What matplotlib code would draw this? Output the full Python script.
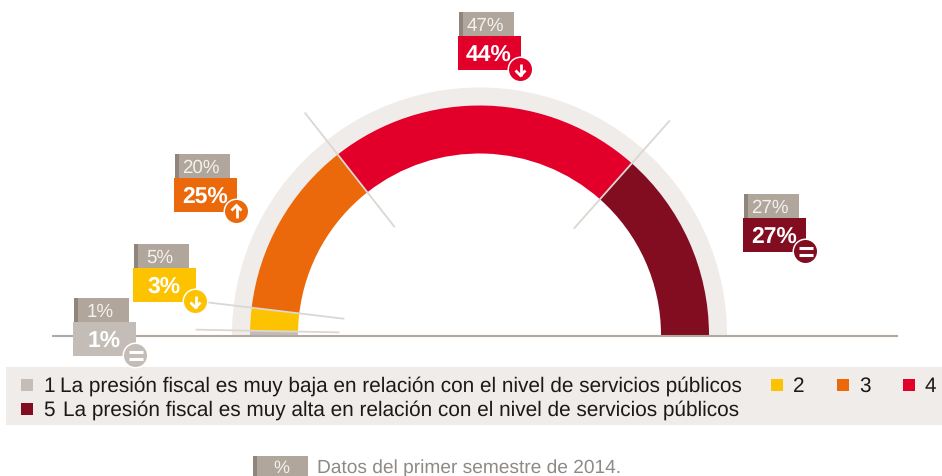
import numpy as np
import matplotlib
matplotlib.use('Agg')
import matplotlib.pyplot as plt
from matplotlib.patches import Wedge, Rectangle, Circle

plt.rcParams['font.family'] = ['Liberation Sans', 'DejaVu Sans']
plt.rcParams['text.hinting'] = 'none'
plt.rcParams['text.hinting_factor'] = 8

# data
categories = ['1', '2', '3', '4', '5']
actual = [1, 3, 25, 44, 27]
previo = [1, 5, 20, 47, 27]
arco = [0.6, 3.2, 25, 44.3, 26.9]
tendencia = ['=', 'down', 'up', 'down', '=']
colores = ['#c4bdb7', '#fdc300', '#eb690b', '#e2002b', '#820c20']
texto_1 = 'La presión fiscal es muy baja en relación con el nivel de servicios públicos'
texto_5 = 'La presión fiscal es muy alta en relación con el nivel de servicios públicos'
nota = 'Datos del primer semestre de 2014.'

# layout in px, top left origin
caja_x = [73, 133, 174, 458, 743]
caja_y = [322, 268, 178, 36, 218]
gris = '#b0a69c'
gris_osc = '#8f857d'
fondo = '#efecea'
cx, cy = 479.5, 335
W, H = 942, 476


def Y(py):
    return H - py


fig = plt.figure(figsize=(W / 100, H / 100), dpi=100)
ax = fig.add_axes([0, 0, 1, 1])
ax.set_xlim(0, W)
ax.set_ylim(0, H)
ax.axis('off')

# ring
ax.add_patch(Wedge((cx, Y(cy)), 247.5, 0, 180, width=18, fc=fondo, ec='none', zorder=1))
cum = np.cumsum([0] + arco)
for i in range(len(arco)):
    t1 = 180 - 180 * cum[i + 1] / cum[-1]
    t2 = 180 - 180 * cum[i] / cum[-1]
    ax.add_patch(Wedge((cx, Y(cy)), 229.5, t1, t2, width=48, fc=colores[i], ec='none', zorder=2))

# separators between segments
for i, (r0, r1) in zip([1, 2, 3, 4], [(141, 283), (137, 275), (138, 282), (143, 286)]):
    a = np.radians(180 - 180 * cum[i] / cum[-1])
    ax.plot([cx + r0 * np.cos(a), cx + r1 * np.cos(a)],
            [Y(cy) + r0 * np.sin(a), Y(cy) + r1 * np.sin(a)],
            color='#dbd7d2', lw=1.3, zorder=3)

# baseline
ax.plot([52, 898], [Y(335.5), Y(335.5)], color='#b3a89f', lw=1.5, zorder=3, solid_capstyle='butt')


def badge(x, y, kind, col):
    ax.add_patch(Circle((x, Y(y)), 13, fc='white', ec='none', zorder=6))
    ax.add_patch(Circle((x, Y(y)), 11.5, fc=col, ec='none', zorder=7))
    if kind == '=':
        for d in (-3.3, 3.3):
            ax.plot([x - 7, x + 7], [Y(y + d)] * 2, color='white', lw=2.2,
                    solid_capstyle='butt', zorder=8)
    else:
        s = 1 if kind == 'up' else -1
        ax.plot([x, x], [Y(y) - 6 * s, Y(y) + 6 * s], color='white', lw=2, solid_capstyle='butt', zorder=8)
        ax.plot([x - 5, x, x + 5], [Y(y) + 1 * s, Y(y) + 6 * s, Y(y) + 1 * s], color='white', lw=2,
                solid_joinstyle='miter', solid_capstyle='butt', zorder=8)


# value labels
for i in range(len(actual)):
    x, y = caja_x[i], caja_y[i]
    ax.add_patch(Rectangle((x + 0.5, Y(y)), 55.5, 24.5, fc=gris, ec='none', zorder=4))
    ax.add_patch(Rectangle((x + 0.5, Y(y)), 4, 24.5, fc=gris_osc, ec='none', zorder=4))
    ax.text(x + 27, Y(y - 5.5), '%d%%' % previo[i], color='#f4f1ee', fontsize=13.5, va='baseline', ha='center', zorder=5)
    ax.add_patch(Rectangle((x, Y(y + 34)), 63, 34, fc=colores[i], ec='none', zorder=4))
    ax.text(x + 31, Y(y + 25), '%d%%' % actual[i], color='white', fontsize=16.5, fontweight='bold',
            va='baseline', ha='center', zorder=5)
    badge(x + 62.5, y + 33.5, tendencia[i], colores[i])

# legend
ax.add_patch(Rectangle((6, Y(425)), W - 6, 58, fc=fondo, ec='none', zorder=1))
ax.add_patch(Rectangle((21, Y(391)), 12, 12, fc=colores[0], ec='none', zorder=2))
ax.add_patch(Rectangle((21, Y(415)), 12, 12, fc=colores[4], ec='none', zorder=2))
fs = 14.95
ax.text(43, Y(392), categories[0], fontsize=fs, color='#1a1a18', va='baseline', ha='left', zorder=3)
ax.text(59.5, Y(392), texto_1, fontsize=fs, color='#1a1a18', va='baseline', ha='left', zorder=3)
ax.text(43, Y(416), categories[4], fontsize=fs, color='#1a1a18', va='baseline', ha='left', zorder=3)
ax.text(63, Y(416), texto_5, fontsize=fs, color='#1a1a18', va='baseline', ha='left', zorder=3)
for i, sx in zip([1, 2, 3], [771, 837, 903]):
    ax.add_patch(Rectangle((sx, Y(391)), 12, 12, fc=colores[i], ec='none', zorder=2))
    ax.text(sx + 22, Y(392), categories[i], fontsize=fs, color='#1a1a18', va='baseline', ha='left', zorder=3)

# footnote
ax.add_patch(Rectangle((253, 0), 55, 20, fc=gris, ec='none', zorder=2))
ax.add_patch(Rectangle((253, 0), 4, 20, fc=gris_osc, ec='none', zorder=2))
ax.text(281, Y(473), '%', color='#f4f1ee', fontsize=13, va='baseline', ha='center', zorder=3)
ax.text(317, Y(473), nota, color='#8f8a85', fontsize=13.8, va='baseline', ha='left', zorder=3)

fig.savefig('out.png', dpi=100)
